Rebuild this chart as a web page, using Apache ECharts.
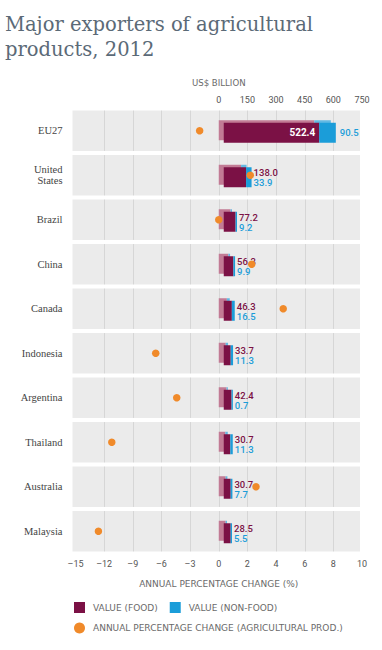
<!DOCTYPE html>
<html><head><meta charset="utf-8">
<script src="https://cdn.jsdelivr.net/npm/echarts@6/dist/echarts.min.js"></script>
<style>html,body{margin:0;padding:0;background:#fff}#c{width:382px;height:650px}</style>
</head><body><div id="c"></div>
<script>
const categories = ['EU27','United\nStates','Brazil','China','Canada','Indonesia','Argentina','Thailand','Australia','Malaysia'];
const foodValues = [522.4,138.0,77.2,56.3,46.3,33.7,42.4,30.7,30.7,28.5];
const nonFoodValues = [90.5,33.9,9.2,9.9,16.5,11.3,0.7,11.3,7.7,5.5];
const pctChange = [-2.0,2.2,0.0,2.3,4.5,-6.6,-4.4,-11.2,2.6,-12.6];
const pctTicks = [-15,-12,-9,-6,-3,0,2,4,6,8,10];
const valueTicks = [0,150,300,450,600,750];

const MAROON = '#7b1145', PINK = '#c27b95', BLUE = '#1b9dd9', LBLUE = '#62b9e3', ORANGE = '#f08a2a';

// bottom axis is a piecewise scale: one tick step = 3 pts below zero, 2 pts above
function toAxis(v){
  for (let i=0;i<pctTicks.length-1;i++){
    if (v>=pctTicks[i] && v<=pctTicks[i+1]) return i-5 + (v-pctTicks[i])/(pctTicks[i+1]-pctTicks[i]);
  }
  return v<0 ? -5 : 5;
}
function fromAxis(p){ return pctTicks[Math.round(p)+5]; }

function geom(api, food, nf, cat){
  const total = food + nf;
  const c0 = api.coord([0, cat]);
  const cT = api.coord([total, cat]);
  const x0 = c0[0], cy = c0[1];
  const fs = x0 + 5;
  const fe = Math.max(cT[0], fs + 0.5*(cT[0]-x0) + 5);
  const nfW = Math.max(1.3, (fe-fs)*nf/total);
  return {x0, cy, fs, fe, split: fe - nfW};
}

const chart = echarts.init(document.getElementById('c'), null, {renderer:'svg'});
const font = 'Roboto, sans-serif';
const font2 = 'DejaVu Sans';
chart.setOption({
  animation:false,
  title:{text:'Major exporters of agricultural\nproducts, 2012', left:0, top:7,
    textStyle:{fontFamily:'DejaVu Serif', fontSize:19.5, fontWeight:'normal', color:'#5b6a77', lineHeight:25}},
  legend:[
    {data:['VALUE (FOOD)','VALUE (NON-FOOD)'], left:74, top:602, padding:0, itemWidth:11, itemHeight:11, itemGap:12, icon:'rect',
     textStyle:{fontFamily:font2, fontSize:9, color:'#6a6a6a', padding:[0,0,0,3]}},
    {data:['ANNUAL PERCENTAGE CHANGE (AGRICULTURAL PROD.)'], left:74, top:622.5, padding:0, itemWidth:11, itemHeight:11, icon:'circle',
     textStyle:{fontFamily:font2, fontSize:9, color:'#6a6a6a', padding:[0,0,0,3]}}
  ],
  grid:{left:75.5, right:20, top:108.5, bottom:96.5},
  xAxis:[
    {type:'value', position:'bottom', min:-5, max:5, interval:1,
     axisLine:{show:false}, axisTick:{show:false}, splitLine:{show:false},
     axisLabel:{margin:6, fontFamily:font, fontSize:9, color:'#555', formatter:p=>{const v=fromAxis(p); return v<0?'\u2013'+(-v):String(v);}},
     name:'ANNUAL PERCENTAGE CHANGE (%)', nameLocation:'middle', nameGap:26,
     nameTextStyle:{fontFamily:font2, fontSize:9, color:'#6a6a6a'}},
    {type:'value', position:'top', min:-valueTicks[valueTicks.length-1], max:valueTicks[valueTicks.length-1], interval:valueTicks[1],
     axisLine:{show:false}, axisTick:{show:false}, splitLine:{show:false},
     axisLabel:{margin:4, fontFamily:font, fontSize:9, color:'#555', formatter:v=>v>=0?String(v):''},
     name:'US$ BILLION', nameLocation:'middle', nameGap:21,
     nameTextStyle:{fontFamily:font2, fontSize:8.6, color:'#6a6a6a'}}
  ],
  yAxis:{type:'category', data:categories, inverse:true,
    axisLine:{show:false}, axisTick:{show:false}, splitLine:{show:false},
    axisLabel:{margin:13, fontFamily:'Liberation Serif', fontSize:10.5, color:'#444', lineHeight:11}},
  series:[
    {type:'custom', name:'bands', silent:true, xAxisIndex:0, z:0,
     data:categories.map((c,i)=>[0,i]), encode:{x:0,y:1},
     renderItem:(params, api)=>{
       const cat = api.value(1);
       const cs = params.coordSys;
       const c = api.coord([0,cat]);
       const h = api.size([0,1])[1] - 4.2;
       const ch = [{type:'rect', shape:{x:cs.x-3, y:c[1]-h/2, width:cs.width+1, height:h}, style:{fill:'#ebebeb'}}];
       for (let p=-4;p<=4;p++){
         const x = Math.round(api.coord([p,cat])[0])+0.5;
         ch.push({type:'line', shape:{x1:x, y1:c[1]-h/2, x2:x, y2:c[1]+h/2}, style:{stroke:'#d6d6d6', lineWidth:1}});
       }
       return {type:'group', children:ch};
     }},
    {type:'custom', name:'VALUE (FOOD)', xAxisIndex:1, z:2, itemStyle:{color:MAROON},
     data:foodValues.map((v,i)=>[v,i,nonFoodValues[i]]), encode:{x:0,y:1},
     renderItem:(params, api)=>{
       const food=api.value(0), cat=api.value(1), nf=api.value(2);
       const g = geom(api, food, nf, cat);
       const ch = [
         {type:'rect', shape:{x:g.x0, y:g.cy-10.5, width:g.split-5-g.x0, height:20}, style:{fill:PINK}},
         {type:'rect', shape:{x:g.split-5, y:g.cy-10.5, width:g.fe-g.split, height:20}, style:{fill:LBLUE}},
         {type:'rect', shape:{x:g.fs, y:g.cy-8, width:g.split-g.fs, height:20}, style:{fill:MAROON}}
       ];
       const inside = food > 300;
       ch.push({type:'text', z2:10, style: inside ?
         {text:food.toFixed(1), x:g.split-4, y:g.cy+2, fill:'#fff', font:'bold 10px Roboto', align:'right', verticalAlign:'middle'} :
         {text:food.toFixed(1), x:g.fe+2, y:g.cy-2.5, fill:MAROON, font:'500 9.5px Roboto', align:'left', verticalAlign:'middle'}});
       return {type:'group', children:ch};
     }},
    {type:'custom', name:'VALUE (NON-FOOD)', xAxisIndex:1, z:3, itemStyle:{color:BLUE},
     data:nonFoodValues.map((v,i)=>[v,i,foodValues[i]]), encode:{x:0,y:1},
     renderItem:(params, api)=>{
       const nf=api.value(0), cat=api.value(1), food=api.value(2);
       const g = geom(api, food, nf, cat);
       const inside = food > 300;
       return {type:'group', children:[
         {type:'rect', shape:{x:g.split, y:g.cy-8, width:g.fe-g.split, height:20}, style:{fill:BLUE}},
         {type:'text', style: inside ?
           {text:nf.toFixed(1), x:g.fe+4, y:g.cy+2, fill:BLUE, font:'500 9.5px Roboto', align:'left', verticalAlign:'middle'} :
           {text:nf.toFixed(1), x:g.fe+2, y:g.cy+7.5, fill:BLUE, font:'500 9.5px Roboto', align:'left', verticalAlign:'middle'}}
       ]};
     }},
    {type:'scatter', name:'ANNUAL PERCENTAGE CHANGE (AGRICULTURAL PROD.)', xAxisIndex:0, z:5,
     symbolSize:7.5, itemStyle:{color:ORANGE, opacity:1},
     data:pctChange.map((v,i)=>[toAxis(v), i])}
  ]
});
</script></body></html>
